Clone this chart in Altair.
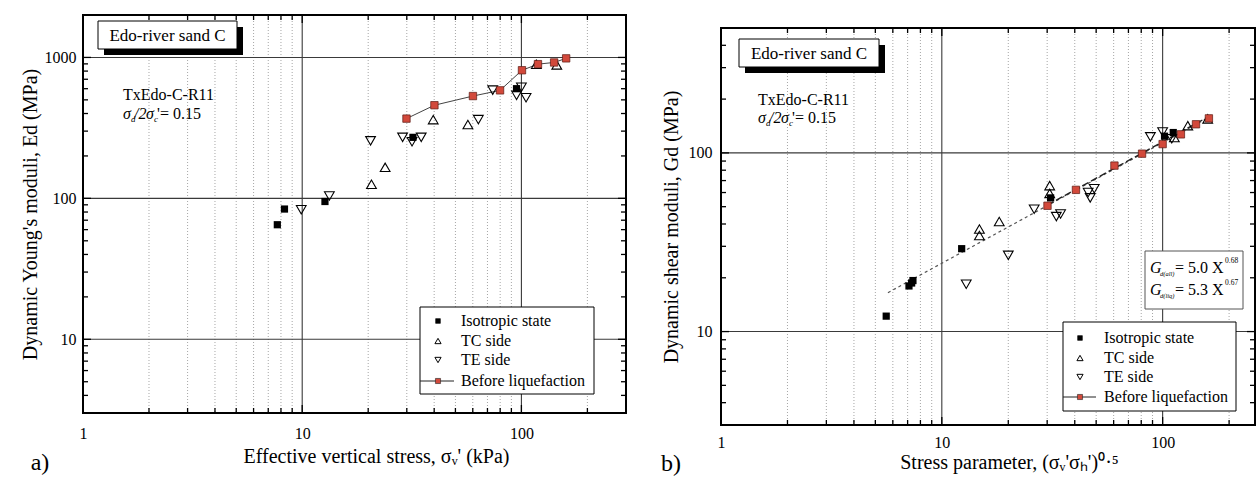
import altair as alt
import pandas as pd

FONT = "Liberation Serif"

# ---------------- data: panel a) ----------------
a_iso_x = [7.7, 8.3, 12.7, 32.0, 95.0]
a_iso_y = [65, 84, 95, 271, 600]
a_tc_x = [20.7, 23.9, 39.6, 57.0, 117.0, 145.0]
a_tc_y = [126, 166, 362, 334, 895, 885]
a_te_x = [9.9, 13.3, 20.5, 28.7, 31.7, 34.9, 63.6, 74.0, 95.0, 100.0, 105.0]
a_te_y = [83, 104, 256, 271, 252, 271, 362, 586, 538, 615, 518]
a_liq_x = [29.9, 40.1, 60.1, 79.9, 100.6, 119.0, 141.0, 160.0]
a_liq_y = [368, 458, 532, 584, 811, 896, 921, 985]

# ---------------- data: panel b) ----------------
b_iso_x = [5.6, 7.1, 7.3, 7.4, 12.3, 31.1, 102.0, 111.7]
b_iso_y = [12.2, 18.0, 18.7, 19.3, 29.1, 56.0, 124.0, 130.0]
b_tc_x = [14.8, 14.8, 18.2, 30.8, 30.8, 113.0, 130.0, 160.0]
b_tc_y = [37.5, 34.5, 41.3, 65.6, 59.3, 122.0, 142.0, 155.0]
b_te_x = [12.9, 20.0, 26.2, 33.0, 34.5, 46.0, 47.0, 49.0, 88.0, 100.0, 110.0]
b_te_y = [18.4, 26.7, 48.4, 44.0, 45.5, 60.0, 56.0, 63.0, 123.0, 131.0, 120.0]
b_liq_x = [30.1, 40.5, 60.5, 80.7, 100.0, 121.0, 141.6, 162.0]
b_liq_y = [50.6, 62.1, 84.9, 99.0, 112.0, 127.0, 144.6, 156.0]
fit_all_x = [5.7, 165.0]
fit_all_y = [16.5, 160.0]
fit_liq_x = [30.0, 165.0]
fit_liq_y = [51.0, 162.0]

# ---------------- axes / ticks ----------------
x_major = [1, 10, 100]
x_minor = [2, 3, 4, 5, 6, 7, 8, 9, 20, 30, 40, 50, 60, 70, 80, 90, 200]
a_y_major = [10, 100, 1000]
a_y_minor = [3, 4, 5, 6, 7, 8, 9, 20, 30, 40, 50, 60, 70, 80, 90,
             200, 300, 400, 500, 600, 700, 800, 900]
b_y_major = [10, 100]
b_y_minor = [3, 4, 5, 6, 7, 8, 9, 20, 30, 40, 50, 60, 70, 80, 90, 200, 300, 400]
legend_labels = ["Isotropic state", "TC side", "TE side", "Before liquefaction"]

RED = "#d2493b"
one = pd.DataFrame({"k": [0]})


def df(xs=None, ys=None):
    d = {}
    if xs is not None:
        d["x"] = xs
    if ys is not None:
        d["y"] = ys
    return pd.DataFrame(d)


def txt(s, x, y, size=16, style="normal", align="left", baseline="middle"):
    return alt.Chart(one).mark_text(
        text=s, font=FONT, fontSize=size, fontStyle=style, align=align,
        baseline=baseline, color="black"
    ).encode(x=alt.value(x), y=alt.value(y))


def rect(x1, x2, y1, y2, fill, stroke=None, sw=1):
    kw = dict(fill=fill, strokeWidth=sw)
    if stroke:
        kw["stroke"] = stroke
    return alt.Chart(one).mark_rect(**kw).encode(
        x=alt.value(x1), x2=alt.value(x2), y=alt.value(y1), y2=alt.value(y2))


def frame(W, T, H):
    return alt.Chart(one).mark_rect(
        fillOpacity=0, stroke="black", strokeWidth=2
    ).encode(x=alt.value(0), x2=alt.value(W), y=alt.value(T), y2=alt.value(H))


def sym(shape, x, y, size, filled, fill="black"):
    if filled:
        m = alt.Chart(one).mark_point(shape=shape, filled=True, fill=fill,
                                      stroke="#222" if fill != "black" else "black",
                                      strokeWidth=0.6, size=size, opacity=1)
    else:
        m = alt.Chart(one).mark_point(shape=shape, filled=False, color="black",
                                      strokeWidth=1, size=size, opacity=1)
    return m.encode(x=alt.value(x), y=alt.value(y))


def hrule(x1, x2, y, color="black", sw=1):
    return alt.Chart(one).mark_rule(color=color, strokeWidth=sw).encode(
        x=alt.value(x1), x2=alt.value(x2), y=alt.value(y))


def panel(W, T, H, xdom, ydom, y_major, y_minor, xtitle, ytitle, xtitleX,
          ylabpad, ytitlepad, xlabpad, xtitlepad, series, fits, connect, annos):
    xs = alt.Scale(type="log", domain=xdom, nice=False)
    ys = alt.Scale(type="log", domain=ydom, nice=False, range=[H, T])
    xax = alt.Axis(values=x_major, format="d", labelFont=FONT, labelFontSize=16,
                   labelColor="black", labelPadding=xlabpad, labelFlush=False,
                   title=xtitle, titleFont=FONT, titleFontSize=20,
                   titleFontWeight="normal", titleColor="black", titlePadding=xtitlepad,
                   titleX=xtitleX, domain=False, ticks=False, grid=False)
    yax = alt.Axis(values=y_major, format="d", labelFont=FONT, labelFontSize=16,
                   labelColor="black", labelPadding=ylabpad, labelFlush=False,
                   title=ytitle, titleFont=FONT, titleFontSize=20,
                   titleFontWeight="normal", titleColor="black",
                   titleY=(T + H) / 2,
                   titlePadding=ytitlepad, domain=False, ticks=False, grid=False)
    X = alt.X("x:Q", scale=xs, axis=xax)
    Y = alt.Y("y:Q", scale=ys, axis=yax)

    layers = []
    # grid
    layers.append(alt.Chart(df(xs=x_minor)).mark_rule(
        color="#9c9c9c", strokeDash=[1, 2], strokeWidth=0.9).encode(
        x=X, y=alt.value(T), y2=alt.value(H)))
    layers.append(alt.Chart(df(xs=x_major[1:])).mark_rule(
        color="#3a3a3a", strokeWidth=1.1).encode(
        x=X, y=alt.value(T), y2=alt.value(H)))
    layers.append(alt.Chart(df(ys=y_major)).mark_rule(
        color="#3a3a3a", strokeWidth=1.1).encode(y=Y))
    # inward ticks
    for vals, L in ((x_minor, 5), (x_major, 8)):
        d = df(xs=vals)
        layers.append(alt.Chart(d).mark_rule(color="black", strokeWidth=1.3).encode(
            x=X, y=alt.value(H), y2=alt.value(H - L)))
        layers.append(alt.Chart(d).mark_rule(color="black", strokeWidth=1.3).encode(
            x=X, y=alt.value(T), y2=alt.value(T + L)))
    for vals, L in ((y_minor, 5), (y_major, 8)):
        d = df(ys=vals)
        layers.append(alt.Chart(d).mark_rule(color="black", strokeWidth=1.3).encode(
            y=Y, x=alt.value(0), x2=alt.value(L)))
        layers.append(alt.Chart(d).mark_rule(color="black", strokeWidth=1.3).encode(
            y=Y, x=alt.value(W), x2=alt.value(W - L)))
    # fit lines
    for fx, fy, dash, col, sw in fits:
        layers.append(alt.Chart(df(fx, fy)).mark_line(
            strokeDash=dash, color=col, strokeWidth=sw).encode(x=X, y=Y))
    iso, tc, te, liq = series
    if connect:
        layers.append(alt.Chart(df(*liq)).mark_line(
            color="#444", strokeWidth=1).encode(x=X, y=Y))
    layers.append(alt.Chart(df(*iso)).mark_point(
        shape="square", filled=True, color="black", size=52, opacity=1).encode(x=X, y=Y))
    layers.append(alt.Chart(df(*tc)).mark_point(
        shape="triangle-up", filled=False, color="black", strokeWidth=1.1,
        size=95, opacity=1).encode(x=X, y=Y))
    layers.append(alt.Chart(df(*te)).mark_point(
        shape="triangle-down", filled=False, color="black", strokeWidth=1.1,
        size=95, opacity=1).encode(x=X, y=Y))
    layers.append(alt.Chart(df(*liq)).mark_point(
        shape="square", filled=True, fill=RED, stroke="#5a1a12", strokeWidth=0.7,
        size=55, opacity=1).encode(x=X, y=Y))
    layers += annos
    layers.append(frame(W, T, H))
    return alt.layer(*layers).properties(width=W, height=H)


def title_box(x1, x2, y1, y2, tx, ty):
    return [
        rect(x1 + 6, x2 + 6, y1 + 6, y2 + 6, "black"),
        rect(x1, x2, y1, y2, "white", "black", 1),
        txt("Edo-river sand C", tx, ty, size=17, align="center"),
    ]


def test_label(x0, y1, y2):
    return [
        txt("TxEdo-C-R11", x0, y1, size=16),
        txt("σ", x0, y2, size=16, style="italic"),
        txt("d", x0 + 8, y2 + 5, size=9, style="italic"),
        txt("/2", x0 + 11, y2, size=16, style="italic"),
        txt("σ", x0 + 23, y2, size=16, style="italic"),
        txt("c", x0 + 31, y2 + 5, size=9, style="italic"),
        txt("'= 0.15", x0 + 34, y2, size=16),
    ]


def legend_box(x0, x1, y0, y1, rows, sx, tx):
    items = [rect(x0, x1, y0, y1, "white", "black", 1),
             sym("square", sx, rows[0], 22, True),
             sym("triangle-up", sx, rows[1], 38, False),
             sym("triangle-down", sx, rows[2], 38, False),
             hrule(x0, sx + 16, rows[3], "#222", 1),
             sym("square", sx, rows[3], 26, True, RED)]
    for lab, ry in zip(legend_labels, rows):
        items.append(txt(lab, tx, ry, size=16))
    return items


# ---------------- panel a ----------------
WA, TA, HA = 543, 0, 398
annos_a = (title_box(15, 154, 6, 34, 84.5, 21)
           + test_label(40, 80, 99)
           + legend_box(337, 511, 292, 379, [306, 326, 345, 366], 355, 378)
           + [txt("a)", -43, 448, size=24, align="center")])
left = panel(WA, TA, HA, [1, 300], [3, 2000], a_y_major, a_y_minor,
             "Effective vertical stress, σᵥ' (kPa)",
             "Dynamic Young's moduli, Ed (MPa)", 293, 7, 4, 12, 5,
             ((a_iso_x, a_iso_y), (a_tc_x, a_tc_y), (a_te_x, a_te_y), (a_liq_x, a_liq_y)),
             [], True, annos_a)

# ---------------- panel b ----------------
WB, TB, HB = 534, 13, 410
formula = [
    rect(424, 522, TB + 223, TB + 281, "white", "#555", 1),
    txt("G", 429, TB + 240, size=16, style="italic"),
    txt("d(all)", 439, TB + 246, size=6.5, style="italic"),
    txt("= 5.0 X", 454, TB + 240, size=16),
    txt("0.68", 504, TB + 233, size=7.5),
    txt("G", 429, TB + 262, size=16, style="italic"),
    txt("d(liq)", 439, TB + 268, size=6.5, style="italic"),
    txt("= 5.3 X", 454, TB + 262, size=16),
    txt("0.67", 504, TB + 255, size=7.5),
]
annos_b = (title_box(18, 158, TB + 11, TB + 39, 88, TB + 26)
           + test_label(37, TB + 72, TB + 90)
           + formula
           + legend_box(342, 515, TB + 294, TB + 383,
                        [TB + 310, TB + 330, TB + 349, TB + 369], 359, 383)
           + [txt("b)", -50, 449, size=24, align="center")])
right = panel(WB, TB, HB, [1, 262], [3, 500], b_y_major, b_y_minor,
              "Stress parameter, (σᵥ'σₕ')⁰·⁵",
              "Dynamic shear moduli, Gd (MPa)", 288, 9, 7, 9, 2,
              ((b_iso_x, b_iso_y), (b_tc_x, b_tc_y), (b_te_x, b_te_y), (b_liq_x, b_liq_y)),
              [(fit_all_x, fit_all_y, [3, 3], "#555", 1.2),
               (fit_liq_x, fit_liq_y, [7, 3], "#222", 1.4)],
              False, annos_b)

chart = alt.hconcat(left, right, spacing=34).configure_view(
    stroke="transparent", strokeWidth=0
).properties(
    padding={"left": 20, "top": 14, "right": 0, "bottom": 0},
    background="white",
)

chart.save("out.html", embed_options={"renderer": "svg", "actions": False})
